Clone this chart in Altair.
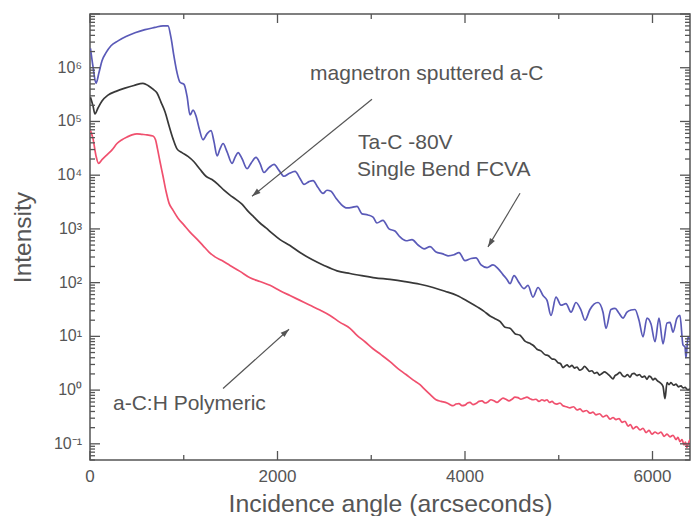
import math
import altair as alt
import pandas as pd

# Plot frame
X_MIN, X_MAX = 0, 6400
Y_MIN, Y_MAX = 0.05, 1e7
W, H = 600, 446
INK = "#555555"
FONT = "Liberation Sans"

# Reflectivity curves: (incidence angle in arcsec, log10 of intensity)
ta_c_80v = [
    (5, 6.36), (32, 6.02), (64, 5.71), (96, 5.91), (128, 6.13), (171, 6.28), (224, 6.41),
    (299, 6.50), (384, 6.58), (480, 6.65), (587, 6.71), (693, 6.75), (779, 6.78), (832, 6.78),
    (864, 6.56), (896, 6.21), (928, 5.91), (960, 5.73), (1003, 5.69), (1035, 5.47), (1067, 5.12),
    (1099, 5.21), (1131, 5.10), (1163, 4.88), (1205, 4.66), (1248, 4.77), (1291, 4.83),
    (1323, 4.62), (1355, 4.36), (1387, 4.49), (1419, 4.59), (1461, 4.44), (1515, 4.22),
    (1547, 4.33), (1579, 4.42), (1621, 4.31), (1675, 4.12), (1717, 4.22), (1771, 4.33),
    (1813, 4.22), (1856, 4.05), (1909, 4.14), (1963, 4.20), (2016, 4.09), (2069, 3.98),
    (2123, 4.03), (2187, 4.07), (2240, 3.94), (2283, 3.83), (2336, 3.88), (2379, 3.90),
    (2432, 3.77), (2485, 3.66), (2528, 3.72), (2571, 3.70), (2624, 3.57), (2677, 3.46),
    (2741, 3.39), (2795, 3.40), (2848, 3.42), (2901, 3.28), (2965, 3.26), (3019, 3.22),
    (3061, 3.11), (3125, 3.16), (3189, 3.00), (3253, 2.96), (3307, 2.85), (3371, 2.78),
    (3435, 2.80), (3499, 2.70), (3563, 2.63), (3627, 2.67), (3691, 2.57), (3755, 2.54),
    (3819, 2.50), (3883, 2.52), (3936, 2.56), (4000, 2.41), (4064, 2.45), (4117, 2.46),
    (4171, 2.33), (4235, 2.28), (4299, 2.33), (4352, 2.26), (4405, 2.15), (4448, 2.06),
    (4480, 1.98), (4523, 2.13), (4576, 2.00), (4629, 1.89), (4672, 1.95), (4725, 1.73),
    (4779, 1.91), (4832, 1.76), (4875, 1.67), (4917, 1.39), (4971, 1.73), (5024, 1.58),
    (5077, 1.61), (5131, 1.45), (5184, 1.63), (5237, 1.49), (5280, 1.30), (5333, 1.50),
    (5376, 1.60), (5419, 1.63), (5472, 1.45), (5504, 1.15), (5557, 1.50), (5600, 1.52),
    (5643, 1.43), (5685, 1.34), (5728, 1.45), (5771, 1.49), (5813, 1.50), (5856, 1.30),
    (5899, 0.99), (5941, 1.34), (5984, 1.23), (6027, 0.90), (6069, 1.34), (6112, 0.86),
    (6155, 1.25), (6187, 1.26), (6219, 1.08), (6261, 1.34), (6293, 1.39), (6325, 0.84),
    (6347, 0.80), (6357, 0.60), (6379, 0.99), (6400, 0.93),
]

magnetron_ac = [
    (5, 5.45), (32, 5.29), (53, 5.14), (85, 5.25), (128, 5.38), (192, 5.49), (277, 5.56),
    (373, 5.62), (469, 5.67), (565, 5.71), (619, 5.67), (672, 5.60), (715, 5.53), (757, 5.36),
    (800, 5.18), (843, 4.92), (885, 4.68), (928, 4.49), (981, 4.42), (1045, 4.35), (1109, 4.25),
    (1173, 4.11), (1237, 3.98), (1301, 3.92), (1365, 3.83), (1429, 3.72), (1493, 3.63),
    (1557, 3.55), (1621, 3.46), (1685, 3.33), (1749, 3.22), (1813, 3.11), (1877, 3.02),
    (1941, 2.92), (2027, 2.80), (2133, 2.69), (2240, 2.56), (2368, 2.43), (2496, 2.32),
    (2635, 2.22), (2773, 2.17), (2901, 2.13), (3040, 2.09), (3200, 2.06), (3360, 2.02),
    (3520, 1.97), (3659, 1.91), (3787, 1.84), (3915, 1.76), (4032, 1.65), (4139, 1.54),
    (4200, 1.47), (4267, 1.38), (4320, 1.33), (4373, 1.28), (4427, 1.17), (4480, 1.15),
    (4533, 1.05), (4587, 1.02), (4640, 0.91), (4693, 0.87), (4730, 0.83), (4768, 0.76),
    (4810, 0.73), (4853, 0.66), (4890, 0.64), (4928, 0.58), (4960, 0.57), (4992, 0.51),
    (5020, 0.49), (5045, 0.42), (5088, 0.47), (5115, 0.43), (5141, 0.46), (5168, 0.41),
    (5195, 0.43), (5222, 0.37), (5248, 0.39), (5275, 0.44), (5301, 0.40), (5328, 0.35),
    (5355, 0.36), (5381, 0.31), (5408, 0.33), (5435, 0.28), (5461, 0.31), (5488, 0.34),
    (5515, 0.31), (5547, 0.26), (5579, 0.21), (5600, 0.27), (5621, 0.29), (5653, 0.33),
    (5680, 0.27), (5707, 0.25), (5733, 0.29), (5760, 0.24), (5781, 0.30), (5803, 0.31),
    (5835, 0.27), (5861, 0.29), (5888, 0.24), (5915, 0.26), (5941, 0.20), (5963, 0.26),
    (5984, 0.24), (6005, 0.19), (6027, 0.22), (6053, 0.17), (6080, 0.14), (6112, 0.07),
    (6133, -0.16), (6155, 0.14), (6176, 0.10), (6197, 0.14), (6224, 0.09), (6251, 0.11),
    (6277, 0.06), (6304, 0.08), (6325, 0.04), (6347, 0.05), (6373, 0.01), (6400, 0.02),
]

ach_polymeric = [
    (5, 4.83), (32, 4.68), (64, 4.36), (91, 4.22), (128, 4.29), (181, 4.38), (235, 4.47),
    (288, 4.59), (341, 4.66), (395, 4.71), (448, 4.75), (501, 4.77), (555, 4.76), (608, 4.75),
    (672, 4.73), (699, 4.66), (720, 4.49), (747, 4.25), (779, 3.98), (811, 3.70), (843, 3.48),
    (885, 3.35), (939, 3.20), (1003, 3.07), (1067, 2.94), (1141, 2.81), (1205, 2.69),
    (1269, 2.57), (1333, 2.48), (1408, 2.41), (1493, 2.32), (1600, 2.21), (1707, 2.09),
    (1813, 2.02), (1920, 1.95), (2027, 1.85), (2133, 1.76), (2240, 1.67), (2347, 1.58),
    (2453, 1.49), (2560, 1.39), (2667, 1.26), (2773, 1.15), (2848, 1.02), (2933, 0.90),
    (3019, 0.77), (3104, 0.66), (3200, 0.53), (3285, 0.40), (3371, 0.29), (3445, 0.19),
    (3520, 0.10), (3573, 0.01), (3627, -0.08), (3691, -0.18), (3744, -0.21), (3808, -0.24),
    (3840, -0.27), (3872, -0.29), (3904, -0.26), (3936, -0.25), (3968, -0.29), (4000, -0.28),
    (4027, -0.24), (4053, -0.23), (4085, -0.27), (4117, -0.25), (4149, -0.21), (4181, -0.20),
    (4213, -0.24), (4245, -0.22), (4277, -0.18), (4309, -0.20), (4341, -0.23), (4373, -0.19),
    (4405, -0.15), (4437, -0.17), (4469, -0.20), (4501, -0.17), (4533, -0.13), (4565, -0.14),
    (4597, -0.17), (4629, -0.15), (4661, -0.13), (4693, -0.16), (4725, -0.18), (4757, -0.17),
    (4789, -0.21), (4821, -0.18), (4848, -0.20), (4875, -0.18), (4901, -0.23), (4928, -0.21),
    (4955, -0.25), (4981, -0.26), (5013, -0.24), (5045, -0.29), (5083, -0.31), (5120, -0.33),
    (5157, -0.31), (5195, -0.37), (5227, -0.35), (5259, -0.40), (5296, -0.38), (5333, -0.43),
    (5365, -0.41), (5397, -0.46), (5435, -0.44), (5472, -0.50), (5509, -0.47), (5547, -0.54),
    (5579, -0.51), (5611, -0.55), (5643, -0.53), (5675, -0.60), (5707, -0.58), (5739, -0.67),
    (5765, -0.64), (5792, -0.72), (5829, -0.68), (5867, -0.74), (5899, -0.71), (5931, -0.79),
    (5963, -0.75), (5995, -0.82), (6027, -0.78), (6059, -0.81), (6091, -0.78), (6123, -0.86),
    (6155, -0.82), (6187, -0.87), (6219, -0.84), (6251, -0.92), (6272, -0.88), (6293, -0.96),
    (6315, -0.92), (6336, -1.02), (6352, -0.97), (6368, -1.07), (6384, -0.98), (6400, -0.92),
]

films = ["Ta-C -80V Single Bend FCVA", "magnetron sputtered a-C", "a-C:H Polymeric"]
film_colors = ["#5a5ab8", "#383838", "#f0506e"]

# Annotation labels and arrows (data coordinates)
note_text = ["magnetron sputtered a-C", "Ta-C -80V", "Single Bend FCVA", "a-C:H Polymeric"]
note_angle = [2347, 2859, 2848, 245]
note_intensity = [7.6e5, 3.9e4, 1.25e4, 0.54]

arrow_from_angle = [3008, 4587, 1419]
arrow_from_intensity = [2.6e5, 4.6e3, 1.07]
arrow_to_angle = [1728, 4245, 2123]
arrow_to_intensity = [4.05e3, 463, 13.6]

# Axis tick positions and labels
x_labelled = [0, 2000, 4000, 6000]
x_thousands = [0, 1000, 2000, 3000, 4000, 5000, 6000]
decade_exps = [-1, 0, 1, 2, 3, 4, 5, 6]
log_ticks = [k * 10.0 ** e for e in range(-2, 8) for k in range(1, 10)
             if Y_MIN <= k * 10.0 ** e <= Y_MAX]

SUP = str.maketrans("-0123456789", "\u207b\u2070\u00b9\u00b2\u00b3\u2074\u2075\u2076\u2077\u2078\u2079")

rows = []
for film, pts in zip(films, [ta_c_80v, magnetron_ac, ach_polymeric]):
    for i, (a, lg) in enumerate(pts):
        rows.append({"film": film, "order": i, "angle": a, "intensity": 10 ** lg})
curves = pd.DataFrame(rows)

notes = pd.DataFrame({"text": note_text, "angle": note_angle, "intensity": note_intensity})

LOG_SPAN = math.log10(Y_MAX) - math.log10(Y_MIN)


def heading(x0, y0, x1, y1):
    """Screen rotation (clockwise, degrees) for an arrowhead pointing from (x0,y0) to (x1,y1)."""
    sx = (x1 - x0) / (X_MAX - X_MIN) * W
    sy = -(math.log10(y1) - math.log10(y0)) / LOG_SPAN * H
    return math.degrees(math.atan2(sx, -sy)) % 360


arrows = pd.DataFrame({
    "a0": arrow_from_angle, "i0": arrow_from_intensity,
    "a1": arrow_to_angle, "i1": arrow_to_intensity,
})
arrows["heading"] = [heading(r.a0, r.i0, r.a1, r.i1) for r in arrows.itertuples()]


# Inward tick lengths (pixels) converted to data units along each axis
def x_len(px):
    return px / W * (X_MAX - X_MIN)


def y_factor(px):
    return 10 ** (px / H * LOG_SPAN)


def is_decade(v):
    return abs(math.log10(v) - round(math.log10(v))) < 1e-6


y_tick_px = [10 if is_decade(v) else 5 for v in log_ticks]
y_ticks = pd.DataFrame({
    "v": log_ticks,
    "left_end": [X_MIN + x_len(p) for p in y_tick_px],
    "right_start": [X_MAX - x_len(p) for p in y_tick_px],
    "x_min": X_MIN,
    "x_max": X_MAX,
})
x_tick_px = [9 if v % 2000 == 0 else 5 for v in x_thousands]
x_ticks = pd.DataFrame({
    "v": x_thousands,
    "bottom_end": [Y_MIN * y_factor(p) for p in x_tick_px],
    "top_start": [Y_MAX / y_factor(p) for p in x_tick_px],
    "y_min": Y_MIN,
    "y_max": Y_MAX,
})
x_tick_labels = pd.DataFrame({"v": x_labelled, "y": Y_MIN, "text": [str(v) for v in x_labelled]})
y_tick_labels = pd.DataFrame({
    "v": [10.0 ** e for e in decade_exps],
    "x": X_MIN,
    "text": ["10" + str(e).translate(SUP) for e in decade_exps],
})

xs = alt.Scale(domain=[X_MIN, X_MAX], nice=False, zero=False)
ys = alt.Scale(type="log", domain=[Y_MIN, Y_MAX], nice=False)


def X(field, **kw):
    return alt.X(field, type="quantitative", scale=xs, axis=None, **kw)


def Y(field, **kw):
    return alt.Y(field, type="quantitative", scale=ys, axis=None, **kw)


lines = alt.Chart(curves).mark_line(strokeWidth=1.7, clip=True, interpolate="monotone").encode(
    x=alt.X("angle:Q", scale=xs, axis=alt.Axis(
        orient="bottom", labels=False, ticks=False, domain=False, grid=False,
        title="Incidence angle (arcseconds)", titleFontSize=24.8, titleFont=FONT,
        titleFontWeight="normal", titleColor=INK, titleBaseline="alphabetic",
        titleX=W / 2, titleY=51)),
    y=alt.Y("intensity:Q", scale=ys, axis=alt.Axis(
        orient="left", labels=False, ticks=False, domain=False, grid=False,
        title="Intensity", titleFontSize=24.5, titleFont=FONT, titleFontWeight="normal",
        titleColor=INK, titleAngle=270, titleAlign="center", titleBaseline="alphabetic",
        titleX=-60, titleY=H / 2)),
    color=alt.Color("film:N", scale=alt.Scale(domain=films, range=film_colors), legend=None),
    order="order:Q",
)

tick_mark = dict(color=INK, strokeWidth=1.3)
left_ticks = alt.Chart(y_ticks).mark_rule(**tick_mark).encode(x=X("x_min"), x2="left_end:Q", y=Y("v"))
right_ticks = alt.Chart(y_ticks).mark_rule(**tick_mark).encode(x=X("right_start"), x2="x_max:Q", y=Y("v"))
bottom_ticks = alt.Chart(x_ticks).mark_rule(**tick_mark).encode(x=X("v"), y=Y("y_min"), y2="bottom_end:Q")
top_ticks = alt.Chart(x_ticks).mark_rule(**tick_mark).encode(x=X("v"), y=Y("top_start"), y2="y_max:Q")

x_label_text = alt.Chart(x_tick_labels).mark_text(
    baseline="top", align="center", dy=9, fontSize=17, font=FONT, color=INK
).encode(x=X("v"), y=Y("y"), text="text:N")

y_label_text = alt.Chart(y_tick_labels).mark_text(
    baseline="middle", align="right", dx=-8, fontSize=16, font=FONT, color=INK
).encode(x=X("x"), y=Y("v"), text="text:N")

labels = alt.Chart(notes).mark_text(
    align="left", baseline="middle", fontSize=21, font=FONT, color=INK
).encode(x=X("angle"), y=Y("intensity"), text="text:N")

shafts = alt.Chart(arrows).mark_rule(color=INK, strokeWidth=1.2).encode(
    x=X("a0"), y=Y("i0"), x2="a1:Q", y2="i1:Q",
)

heads = alt.Chart(arrows).mark_point(
    shape="M0,0L-0.33,1L0.33,1Z", filled=True, color=INK, opacity=1, size=300
).encode(
    x=X("a1"), y=Y("i1"), angle=alt.Angle("heading:Q", scale=None),
)

chart = alt.layer(
    lines, left_ticks, right_ticks, bottom_ticks, top_ticks,
    x_label_text, y_label_text, shafts, heads, labels,
).resolve_scale(
    x="independent", y="independent"
).properties(
    width=W,
    height=H,
    autosize=alt.AutoSizeParams(type="none"),
    padding={"left": 90, "top": 14, "right": 1, "bottom": 56},
    background="white",
).configure_view(stroke=INK, strokeWidth=1.5)

chart.save("out.html", embed_options={"renderer": "svg", "actions": False})
